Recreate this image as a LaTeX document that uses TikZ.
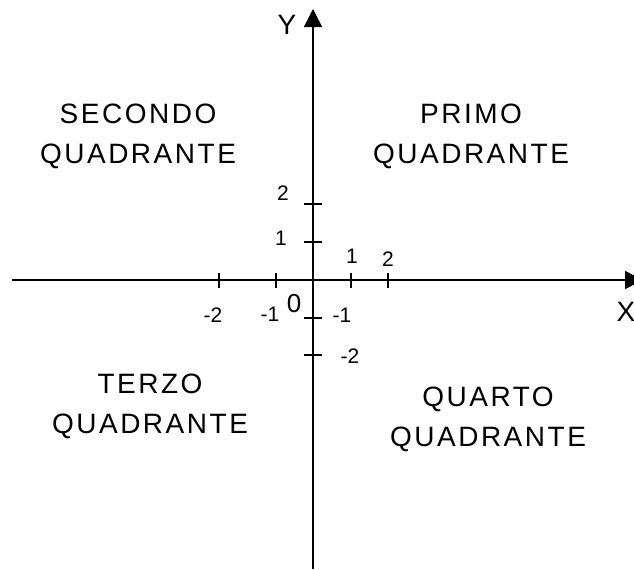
\documentclass[tikz,border=0pt]{standalone}
\usepackage{fontspec}
\setmainfont{Liberation Sans}
\newfontfamily\quadfont[LetterSpace=9]{Liberation Sans}
\usetikzlibrary{arrows.meta}

\tikzset{
  axisline/.style={line width=1.1pt, draw=black,
    -{Triangle[length=13.5pt, width=13.5pt]}},
  tickmark/.style={line width=1.1pt, draw=black},
  quadtext/.style={font=\quadfont\fontsize{21}{30}\selectfont,
    align=center, inner sep=0pt},
  numtext/.style={font=\fontsize{15.75}{18}\selectfont, inner sep=0pt},
  zerotext/.style={font=\fontsize{19.5}{22}\selectfont, inner sep=0pt},
  axistext/.style={font=\fontsize{21}{24}\selectfont, inner sep=0pt}
}

\begin{document}
\begin{tikzpicture}[x=0.75pt, y=-0.75pt]
\clip (0,0) rectangle (634,569);

% axes
\coordinate (xstart) at (12,280);
\coordinate (xend) at (643,280);
\coordinate (ystart) at (313,569);
\coordinate (yend) at (313,9);
\draw[axisline] (xstart) -- (xend);
\draw[axisline] (ystart) -- (yend);

% ticks
\foreach \tx in {219,276,351,388}
  \draw[tickmark] (\tx,273) -- (\tx,288);
\foreach \ty in {204,242,318,355}
  \draw[tickmark] (304,\ty) -- (322,\ty);

% axis names
\node[axistext] (ylab) at (287,25) {Y};
\node[axistext] (xlab) at (626,312) {X};

% tick labels
\node[numtext] (ytwo) at (283,193) {2};
\node[numtext] (yone) at (281,238) {1};
\node[numtext] (xone) at (352,256) {1};
\node[numtext] (xtwo) at (388,259) {2};
\node[numtext] (xmtwo) at (213,315) {-2};
\node[numtext] (xmone) at (270,314) {-1};
\node[zerotext] (orig) at (294,304) {0};
\node[numtext] (ymone) at (342,315) {-1};
\node[numtext] (ymtwo) at (350,356) {-2};

% quadrants
\node[quadtext] (second) at (138,136) {SECONDO\\QUADRANTE};
\node[quadtext] (first) at (471,136) {PRIMO\\QUADRANTE};
\node[quadtext] (third) at (150,406) {TERZO\\QUADRANTE};
\node[quadtext] (fourth) at (488,419) {QUARTO\\QUADRANTE};
\end{tikzpicture}
\end{document}
